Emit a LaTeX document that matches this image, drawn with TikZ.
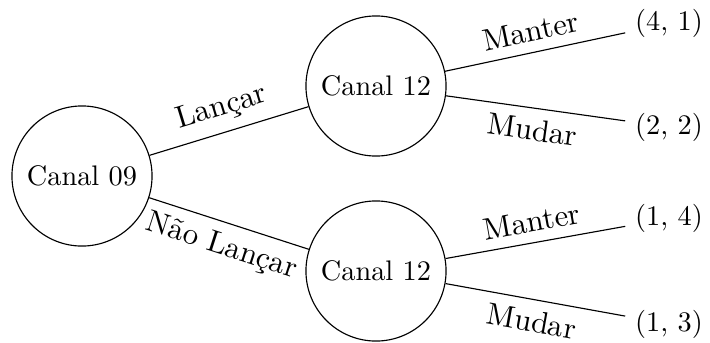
\documentclass[tikz,border=0pt]{standalone}
\begin{document}
\begin{tikzpicture}[x=0.01242cm,y=-0.01242cm,
  state/.style={circle,draw,minimum size=1.74cm,inner sep=0pt},
  leaf/.style={inner sep=3.33pt},
  lab/.style={midway,sloped,font=\fontsize{10.9}{13}\selectfont,inner sep=3.6pt},
  edge/.style={draw,thin}]
\useasboundingbox (0,0) rectangle (710,342);
\node[state] (root) at (82,176) {Canal 09};
\node[state] (a) at (376,86) {Canal 12};
\node[state] (b) at (376,271) {Canal 12};
\node[leaf] (a1) at (669,23.5) {(4, 1)};
\node[leaf] (a2) at (669,127) {(2, 2)};
\node[leaf] (b1) at (669,218.5) {(1, 4)};
\node[leaf] (b2) at (669,324) {(1, 3)};
\draw[edge] (root) -- node[lab,above] {Lançar} (a);
\draw[edge] (root) -- node[lab,below] {Não Lançar} (b);
\draw[edge] (a) -- node[lab,above] {Manter} (a1);
\draw[edge] (a) -- node[lab,below] {Mudar} (a2);
\draw[edge] (b) -- node[lab,above] {Manter} (b1);
\draw[edge] (b) -- node[lab,below] {Mudar} (b2);
\end{tikzpicture}
\end{document}
